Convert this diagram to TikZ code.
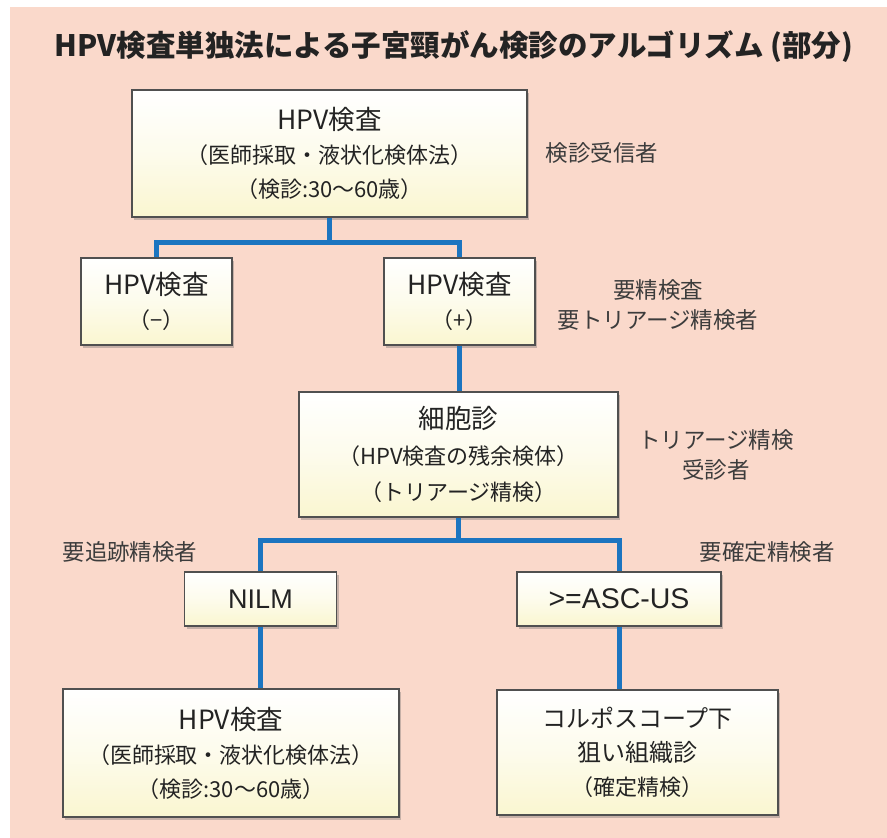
\documentclass[tikz,border=0pt]{standalone}
\usepackage{fontspec}
\setmainfont{Noto Sans CJK JP}
\newfontfamily\latinfont{Liberation Sans}
\usetikzlibrary{shadows}
\definecolor{bgpink}{RGB}{250,217,203}
\definecolor{boxyellow}{RGB}{250,246,208}
\definecolor{boxborder}{RGB}{80,80,80}
\definecolor{connblue}{RGB}{28,117,192}
\definecolor{textc}{RGB}{35,35,35}
\definecolor{labelc}{RGB}{60,60,60}
\newcommand{\lnbig}{\fontsize{26.5}{34}\selectfont}
\newcommand{\lnmid}{\fontsize{24}{34}\selectfont}
\newcommand{\lnsml}{\fontsize{22}{34}\selectfont}
\tikzset{
  box/.style={draw=boxborder, line width=1.6pt, top color=white, bottom color=boxyellow,
    middle color=white!60!boxyellow,
    drop shadow={shadow xshift=2pt, shadow yshift=-3pt, opacity=0.35, fill=black!60},
    align=center, inner sep=0pt, text=textc, font=\fontsize{22}{34}\selectfont},
  conn/.style={draw=connblue, line width=5pt},
  lbl/.style={text=labelc, font=\fontsize{22.5}{30}\selectfont, align=center, inner sep=0pt},
}
\begin{document}
\begin{tikzpicture}[x=1pt,y=-1pt]
\useasboundingbox (0,0) rectangle (887,838);
\fill[white] (0,0) rectangle (887,838);
\fill[bgpink] (10,7) rectangle (887,838);

\node[text=textc, font=\fontsize{29.5}{34}\selectfont\bfseries, inner sep=0pt] (title) at (454,47)
  {HPV検査単独法による子宮頸がん検診のアルゴリズム (部分)};

\node[box, minimum width=395pt, minimum height=127pt] (b1) at (329.5,153.5)
  {\lnbig HPV検査\\ \lnsml （医師採取・液状化検体法）\\ \lnsml （検診:30〜60歳）};
\node[box, minimum width=151pt, minimum height=87pt] (bm) at (156.5,301.5)
  {\lnbig HPV検査\\ \lnsml （−）};
\node[box, minimum width=151pt, minimum height=87pt] (bp) at (459.5,301.5)
  {\lnbig HPV検査\\ \lnsml （+）};
\node[box, minimum width=319pt, minimum height=125pt] (cy) at (458.5,454.5)
  {\lnbig 細胞診\\[2pt] \lnsml （HPV検査の残余検体）\\[2pt] \lnsml （トリアージ精検）};
\node[box, minimum width=152pt, minimum height=54pt] (nilm) at (260.5,599)
  {\fontsize{27}{34}\selectfont\latinfont NILM};
\node[box, minimum width=204pt, minimum height=54pt] (asc) at (619,599)
  {\fontsize{28.5}{34}\selectfont\latinfont >=ASC-US};
\node[box, minimum width=336pt, minimum height=128pt] (bl) at (231,753)
  {\lnbig HPV検査\\ \lnsml （医師採取・液状化検体法）\\ \lnsml （検診:30〜60歳）};
\node[box, minimum width=281pt, minimum height=125pt] (br) at (637.5,752.5)
  {\lnmid コルポスコープ下\\ \lnmid 狙い組織診\\ \lnsml （確定精検）};

\node[lbl] (l1) at (602,153) {検診受信者};
\node[lbl] (l2) at (658,305) {要精検査\\要トリアージ精検者};
\node[lbl] (l3) at (716,455) {トリアージ精検\\受診者};
\node[lbl] (l4) at (130,552) {要追跡精検者};
\node[lbl] (l5) at (767,552) {要確定精検者};

\draw[conn] (b1.south) -- ++(0,25) coordinate (j1);
\draw[conn] (bm.north) |- (j1) -| (bp.north);
\draw[conn] (bp.south) -- (bp.south |- cy.north);
\draw[conn] (cy.south) -- ++(0,23) coordinate (j2);
\draw[conn] (nilm.north) |- (j2) -| (asc.north);
\draw[conn] (nilm.south) -- (nilm.south |- bl.north);
\draw[conn] (asc.south) -- (asc.south |- br.north);
\end{tikzpicture}
\end{document}
